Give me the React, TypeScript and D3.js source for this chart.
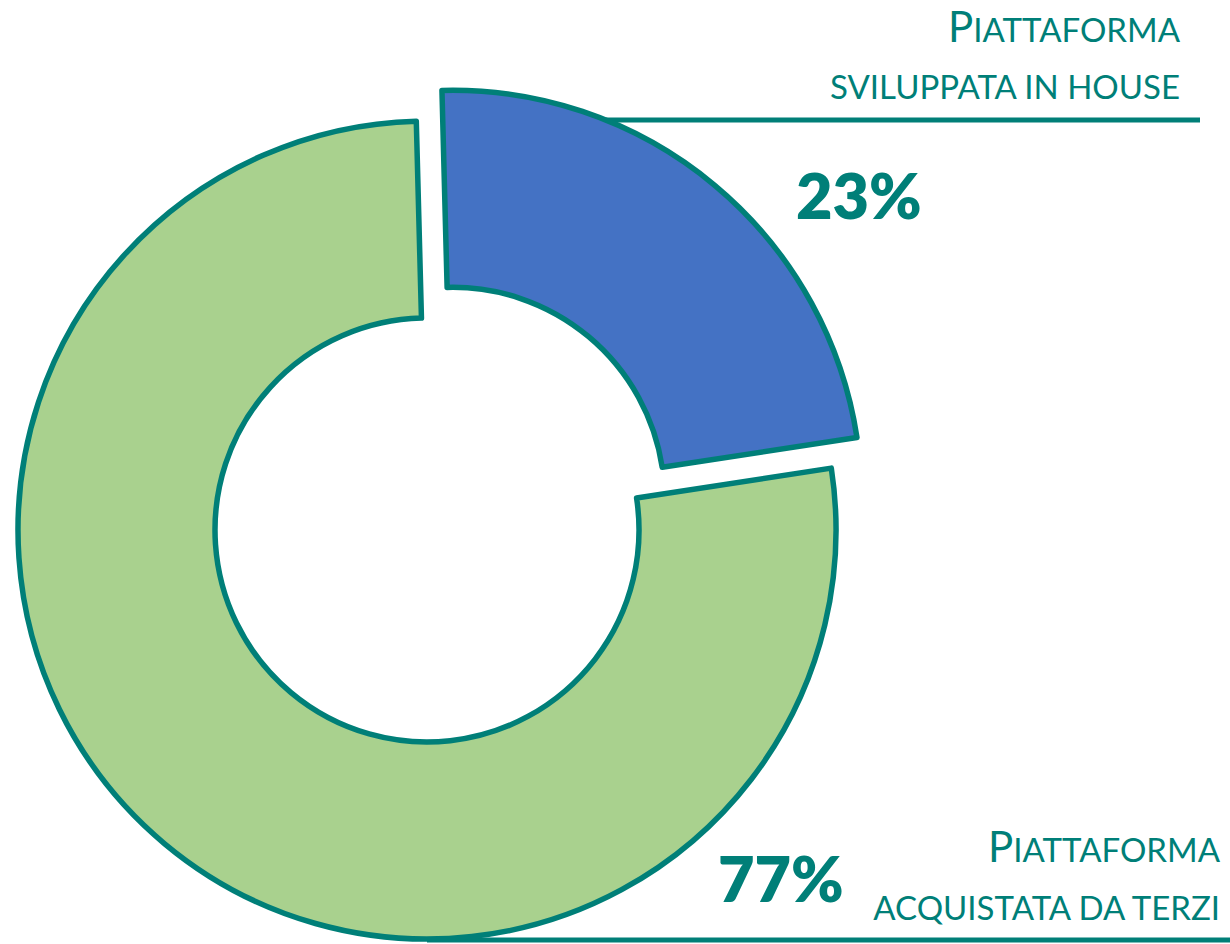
import * as d3 from 'd3';

// dati del grafico
const categories = ['Piattaforma sviluppata in house', 'Piattaforma acquistata da terzi'];
const titleWords = ['Piattaforma', 'Piattaforma'];
const subtitles = ['sviluppata in house', 'acquistata da terzi'];
const values = [23, 77];
const fills = ['#4472C4', '#A9D18E'];

const W = 1230;
const H = 944;
const TEAL = '#007F78';
const FONT = 'Lato, "Open Sans", sans-serif';

const cx = 427;
const cy = 530;
const outerR = 409;
const innerR = 212;
const rot = (-1.5 * Math.PI) / 180;
const explode = 40;

// posizione delle etichette (layout)
const labelLayout = [
  { right: 1180, base1: 42, base2: 99, lineY: 120, lineEnd: 1200, pctX: 796, pctY: 219 },
  { right: 1220, base1: 862, base2: 920, lineY: 940, lineEnd: 1230, pctX: 718, pctY: 902 },
];

export default function App() {
  const pie = d3.pie<number>().sort(null).startAngle(rot).endAngle(rot + 2 * Math.PI);
  const arcs = pie(values);
  const arc = d3.arc<d3.PieArcDatum<number>>().innerRadius(innerR).outerRadius(outerR);

  const offsets = arcs.map((a, i) => {
    if (i !== 0) return [0, 0];
    const mid = (a.startAngle + a.endAngle) / 2;
    return [Math.sin(mid) * explode, -Math.cos(mid) * explode];
  });

  // inizio della linea: dove tocca il bordo esterno della fetta
  const lineStart = (i: number) => {
    const [ox, oy] = offsets[i];
    const y = labelLayout[i].lineY;
    const bx = cx + ox;
    const by = cy + oy;
    const dy = y - by;
    if (Math.abs(dy) >= outerR) return bx;
    return i === 0 ? bx + Math.sqrt(outerR * outerR - dy * dy) : bx;
  };

  const total = d3.sum(values);

  return (
    <svg
      width={W}
      height={H}
      style={{ position: 'absolute', left: 0, top: 0, background: '#fff' }}
      fontFamily={FONT}
    >
      {labelLayout.map((l, i) => (
        <line
          key={'ln' + i}
          x1={lineStart(i)}
          x2={l.lineEnd}
          y1={l.lineY}
          y2={l.lineY}
          stroke={TEAL}
          strokeWidth={5}
        />
      ))}
      {arcs.map((a, i) => (
        <path
          key={categories[i]}
          d={arc(a) || ''}
          transform={`translate(${cx + offsets[i][0]},${cy + offsets[i][1]})`}
          fill={fills[i]}
          stroke={TEAL}
          strokeWidth={5.5}
          strokeLinejoin="round"
        />
      ))}
      {labelLayout.map((l, i) => (
        <g key={'lb' + i} fill={TEAL}>
          <text x={l.right} y={l.base1} textAnchor="end" fontSize={33}>
            <tspan fontSize={42}>{titleWords[i].charAt(0).toUpperCase()}</tspan>
            <tspan>{titleWords[i].slice(1).toUpperCase()}</tspan>
          </text>
          <text x={l.right} y={l.base2} textAnchor="end" fontSize={33}>
            {subtitles[i].toUpperCase()}
          </text>
          <text x={l.pctX} y={l.pctY} fontSize={63} fontWeight={800}>
            {Math.round((values[i] / total) * 100)}%
          </text>
        </g>
      ))}
    </svg>
  );
}
